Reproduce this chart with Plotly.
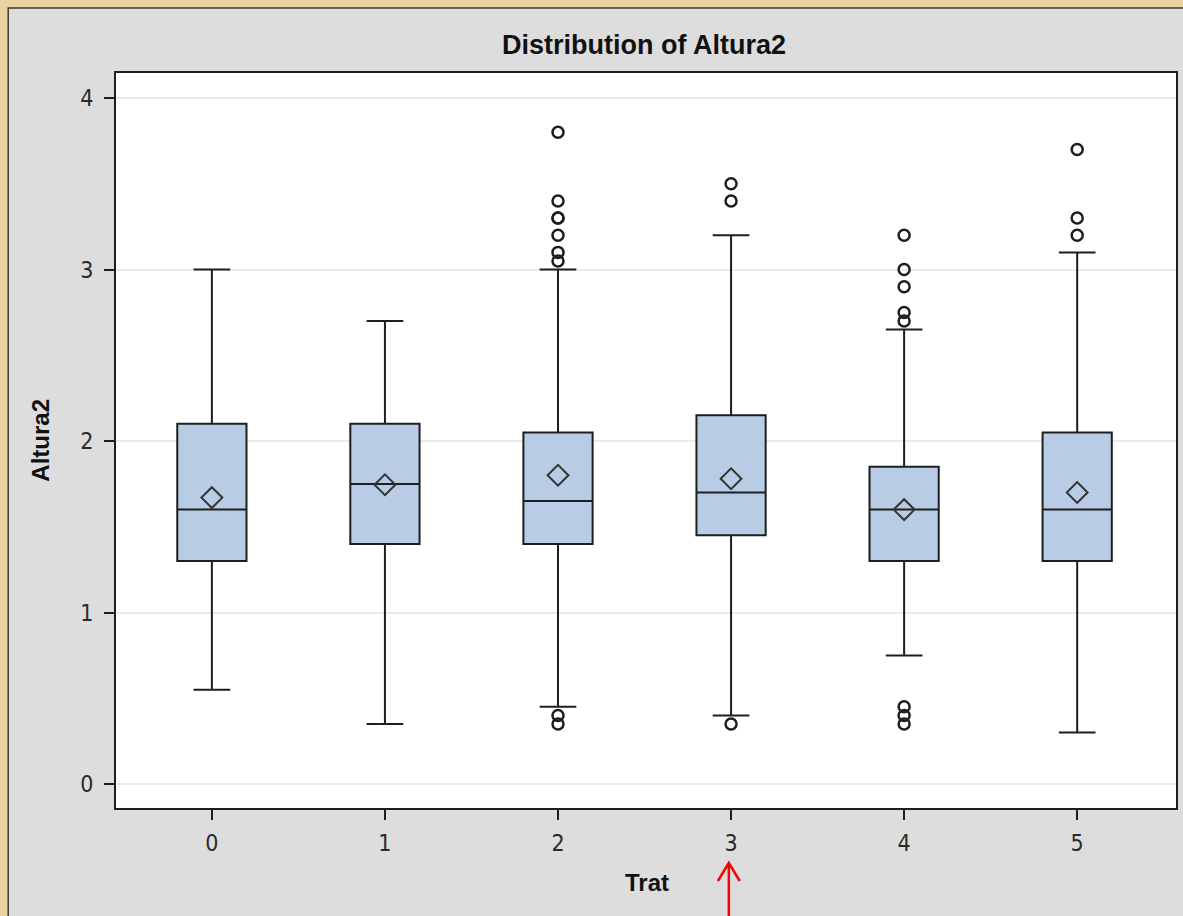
import plotly.graph_objects as go

# Box statistics of Altura2 for each treatment group (Trat)
trat = [0, 1, 2, 3, 4, 5]
tick_labels = ["0", "1", "2", "3", "4", "5"]
q1 = [1.30, 1.40, 1.40, 1.45, 1.30, 1.30]
median = [1.60, 1.75, 1.65, 1.70, 1.60, 1.60]
q3 = [2.10, 2.10, 2.05, 2.15, 1.85, 2.05]
lower_whisker = [0.55, 0.35, 0.45, 0.40, 0.75, 0.30]
upper_whisker = [3.00, 2.70, 3.00, 3.20, 2.65, 3.10]
means = [1.67, 1.745, 1.80, 1.78, 1.60, 1.70]

# Outlying observations per group
outliers = {
    0: [],
    1: [],
    2: [3.80, 3.40, 3.30, 3.30, 3.20, 3.10, 3.05, 0.40, 0.35],
    3: [3.50, 3.40, 0.35],
    4: [3.20, 3.00, 2.90, 2.75, 2.70, 0.45, 0.40, 0.35],
    5: [3.70, 3.30, 3.20],
}

W, H = 1183, 916
ML, MR, MT, MB = 116, 5, 73, 108
PW, PH = W - ML - MR, H - MT - MB


def px_x(px):
    return (px - ML) / PW


def px_y(py):
    return (H - MB - py) / PH


BOX_FILL = "#b8cde5"
INK = "#1e1e1e"
TICK_FONT = dict(family="Liberation Sans Narrow, Arial Narrow, DejaVu Sans Condensed, Liberation Sans, Arial, sans-serif",
                 size=23, color="#2a2a2a")
BOLD_FONT = dict(family="Liberation Sans, Arial, sans-serif", size=24, color="#111111", weight="bold")

fig = go.Figure()

fig.add_trace(go.Box(
    x=trat, q1=q1, median=median, q3=q3,
    lowerfence=lower_whisker, upperfence=upper_whisker,
    width=0.4, whiskerwidth=0.53,
    fillcolor=BOX_FILL, line=dict(color=INK, width=2),
    boxpoints=False, showlegend=False, hoverinfo="skip",
))

ox, oy = [], []
for g in trat:
    for v in outliers[g]:
        ox.append(g)
        oy.append(v)

fig.add_trace(go.Scatter(
    x=ox, y=oy, mode="markers", showlegend=False,
    marker=dict(symbol="circle-open", size=11, color=INK, line=dict(width=2.5)),
))

fig.add_trace(go.Scatter(
    x=trat, y=means, mode="markers", showlegend=False,
    marker=dict(symbol="diamond-open", size=16, color="#333333", line=dict(width=2)),
))

shapes = [
    # grey panel framed by a thin dark line
    dict(type="rect", xref="paper", yref="paper", layer="below",
         x0=px_x(8), x1=px_x(W + 6), y0=px_y(H + 6), y1=px_y(8),
         fillcolor="#dddddd", line=dict(color="#3a3a3a", width=1.5)),
    # white data area on top of the panel
    dict(type="rect", xref="paper", yref="paper", layer="below",
         x0=0, x1=1, y0=0, y1=1, fillcolor="#ffffff", line=dict(width=0)),
    # red arrow pointing at group 3
    dict(type="path", xref="paper", yref="paper", layer="above",
         path=f"M {px_x(730)},{px_y(H + 2)} L {px_x(730)},{px_y(864)} "
              f"M {px_x(719)},{px_y(881)} L {px_x(730)},{px_y(863)} L {px_x(741)},{px_y(881)}",
         line=dict(color="#ff0000", width=2.5)),
]

annotations = [
    dict(text="Altura2", xref="paper", yref="paper", x=px_x(40), y=0.5,
         textangle=-90, showarrow=False, font=BOLD_FONT, xanchor="center", yanchor="middle"),
    dict(text="Trat", xref="paper", yref="paper", x=px_x(648), y=px_y(882),
         showarrow=False, font=BOLD_FONT, xanchor="center", yanchor="middle"),
]

fig.update_layout(
    width=W, height=H,
    margin=dict(l=ML, r=MR, t=MT, b=MB),
    paper_bgcolor="#e8d3a0",
    plot_bgcolor="#ffffff",
    title=dict(text="Distribution of Altura2", x=px_x(645), xref="paper",
               y=1 - 45 / H, yref="container", xanchor="center", yanchor="middle",
               font=dict(family="Liberation Sans, Arial, sans-serif", size=27,
                         color="#111111", weight="bold")),
    shapes=shapes,
    annotations=annotations,
    xaxis=dict(range=[-0.554, 5.571], tickvals=trat, ticktext=tick_labels,
               showgrid=False, zeroline=False,
               showline=True, mirror=True, linecolor=INK, linewidth=2,
               ticks="outside", ticklen=10, tickwidth=2, tickcolor=INK,
               ticklabelstandoff=3, tickfont=TICK_FONT),
    yaxis=dict(range=[-0.14, 4.146], tickvals=[0, 1, 2, 3, 4],
               showgrid=True, gridcolor="#ebebeb", gridwidth=2, zeroline=False,
               showline=True, mirror=True, linecolor=INK, linewidth=2,
               ticks="outside", ticklen=10, tickwidth=2, tickcolor=INK,
               ticklabelstandoff=6, tickfont=TICK_FONT),
)

fig.write_html("out.html")
